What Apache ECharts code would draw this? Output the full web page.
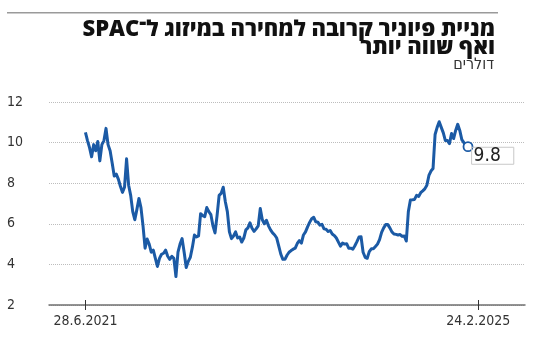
<!DOCTYPE html>
<html><head><meta charset="utf-8">
<script src="https://cdn.jsdelivr.net/npm/echarts@6/dist/echarts.min.js"></script>
<style>html,body{margin:0;padding:0;background:#fff}#c{width:550px;height:339px}</style>
</head><body><div id="c"></div>
<script>
const titleLine1 = 'מניית פיוניר קרובה למחירה במיזוג ל־SPAC';
const titleLine2 = 'ואף שווה יותר';
const unitLabel = 'דולרים';
const stepDays = 7; // weekly samples starting 28.6.2021
const prices = [
10.5,10.1,9.75,9.3,9.9,9.6,10.05,9.1,9.9,10.1,
10.7,9.9,9.6,9.0,8.35,8.45,8.2,7.85,7.55,7.8,
9.2,7.9,7.4,6.6,6.2,6.7,7.25,6.8,5.9,4.8,
5.25,5.0,4.6,4.7,4.3,3.9,4.3,4.5,4.55,4.7,
4.4,4.25,4.4,4.3,3.4,4.6,5.0,5.27,4.6,3.85,
4.15,4.35,4.85,5.45,5.35,5.4,6.5,6.4,6.35,6.8,
6.6,6.45,5.9,5.55,6.4,7.4,7.5,7.8,7.1,6.6,
5.6,5.27,5.4,5.6,5.3,5.35,5.1,5.3,5.7,5.8,
6.05,5.78,5.63,5.75,5.9,6.75,6.2,6.0,6.17,5.9,
5.7,5.55,5.45,5.3,4.9,4.5,4.25,4.25,4.45,4.6,
4.68,4.75,4.8,5.03,5.17,5.05,5.45,5.6,5.85,6.07,
6.25,6.32,6.1,6.08,5.93,5.97,5.75,5.73,5.62,5.67,
5.5,5.42,5.3,5.1,4.9,5.05,5.0,5.02,4.8,4.8,
4.75,4.92,5.12,5.35,5.36,4.6,4.35,4.3,4.63,4.77,
4.77,4.88,5.0,5.22,5.58,5.8,5.96,5.96,5.8,5.6,
5.5,5.48,5.45,5.47,5.38,5.4,5.15,6.6,7.17,7.18,
7.2,7.4,7.35,7.53,7.62,7.72,7.9,8.38,8.6,8.72,
10.4,10.75,11.03,10.75,10.48,10.1,10.1,9.95,10.45,10.2,
10.6,10.9,10.6,10.15,10.0,9.85,9.8
];
const xTickDays = [0, 1337];
const xTickLabels = ['28.6.2021', '24.2.2025'];
const lastLabel = '9.8';

const condFont = "'Liberation Sans Narrow','DejaVu Sans Condensed','Roboto',sans-serif";
const titleFont = "'Open Sans','Liberation Sans',sans-serif";
const blue = '#1b5aa5';
const lineData = prices.map((v, i) => [i * stepDays, v]);
const lastPoint = lineData[lineData.length - 1];
const rtl = s => '\u202B' + s + '\u202C';

const chart = echarts.init(document.getElementById('c'), null, {renderer: 'canvas'});
const xBase = {
  type: 'value', min: -124, max: 1496, gridIndex: 0, position: 'bottom',
  splitLine: {show: false}
};
chart.setOption({
  animation: false,
  backgroundColor: '#fff',
  title: [
    {text: rtl(titleLine1), right: 50, top: 14, textStyle: {fontFamily: titleFont, fontWeight: 900, fontSize: 22, color: '#111'}},
    {text: rtl(titleLine2), right: 50, top: 32, textStyle: {fontFamily: titleFont, fontWeight: 900, fontSize: 22, color: '#111'}},
    {text: rtl(unitLabel), right: 51, top: 52, textStyle: {fontFamily: condFont, fontWeight: 'normal', fontSize: 16, color: '#333'}}
  ],
  graphic: [{type: 'rect', shape: {x: 7, y: 12, width: 491, height: 1.5}, style: {fill: '#9a9a9a'}}],
  grid: {left: 49, right: 25, top: 102, bottom: 34},
  xAxis: [
    Object.assign({}, xBase, {
      axisLine: {show: true, lineStyle: {color: '#707070', width: 1.5}},
      axisTick: {show: true, customValues: xTickDays, length: 5, lineStyle: {color: '#333', width: 1}},
      axisLabel: {customValues: xTickDays, formatter: v => xTickLabels[xTickDays.indexOf(v)], fontFamily: condFont, fontSize: 14, color: '#333', margin: 9}
    }),
    Object.assign({}, xBase, {
      axisLine: {show: false},
      axisTick: {show: true, inside: true, customValues: xTickDays, length: 5, lineStyle: {color: '#333', width: 1}},
      axisLabel: {show: false}
    })
  ],
  yAxis: {
    type: 'value', min: 2, max: 12, interval: 2,
    axisLine: {show: false}, axisTick: {show: false},
    axisLabel: {align: 'left', margin: 42, fontFamily: condFont, fontSize: 14, color: '#333'},
    splitLine: {lineStyle: {color: '#bdbdbd', type: [1, 1], width: 1}}
  },
  series: [
    {type: 'line', data: lineData, symbol: 'none', lineStyle: {color: blue, width: 3, join: 'round'}, z: 3},
    {type: 'scatter', data: [lastPoint], symbol: 'circle', symbolSize: 9, z: 4,
     itemStyle: {color: '#ffffff', opacity: 1, borderColor: blue, borderWidth: 1.8},
     label: {show: true, formatter: lastLabel, position: [9, 6], align: 'left', verticalAlign: 'top',
       fontFamily: condFont, fontSize: 19, lineHeight: 17, color: '#222',
       borderColor: '#c8c8c8', borderWidth: 1, padding: [0, 13, 0, 2]}}
  ]
});
</script></body></html>
